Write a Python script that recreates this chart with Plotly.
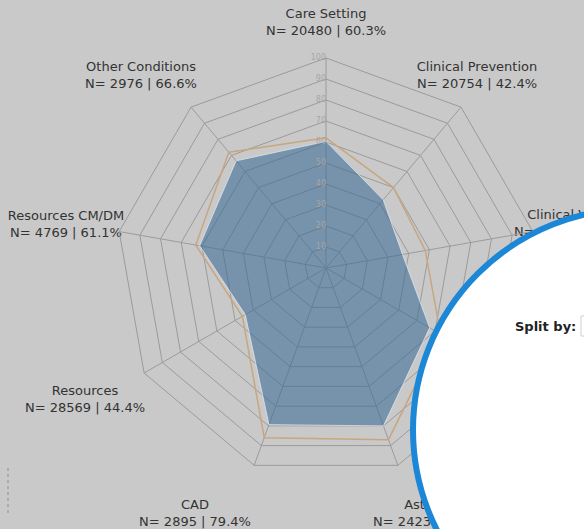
import plotly.graph_objects as go

# ---- data ----
categories = ["Care Setting", "Clinical Prevention", "Clinical Values", "Diabetes",
              "Asthma", "CAD", "Resources", "Resources CM/DM", "Other Conditions"]
n_counts = [20480, 20754, 18214, 9870, 2423, 2895, 28569, 4769, 2976]
pct_values = [60.3, 42.4, 37.0, 57.0, 80.0, 79.4, 44.4, 61.1, 66.6]
benchmark_values = [62.0, 50.0, 48.0, 63.0, 87.0, 86.0, 46.0, 63.0, 72.0]
radial_ticks = [10, 20, 30, 40, 50, 60, 70, 80, 90, 100]

# ---- label placement (pixel coords of the 584x529 canvas) ----
label_x = [326, 477, 574, 545, 429, 195, 85, 66, 141]
label_y = [23, 76, 224, 400, 514, 514, 400, 225, 76]

W, H = 584, 529
BG = "#c9c9c9"
GRID = "#9b9b9b"

labels = [f"{c}<br>N= {n} | {p}%" for c, n, p in zip(categories, n_counts, pct_values)]

theta_closed = categories + categories[:1]

fig = go.Figure()

fig.add_trace(go.Scatterpolar(
    r=benchmark_values + benchmark_values[:1],
    theta=theta_closed,
    mode="lines",
    line=dict(color="#c8a680", width=1.5),
    hoverinfo="skip",
    showlegend=False,
))
fig.add_trace(go.Scatterpolar(
    r=pct_values + pct_values[:1],
    theta=theta_closed,
    mode="lines",
    fill="toself",
    fillcolor="rgba(55,103,148,0.56)",
    line=dict(color="rgba(225,232,240,0.75)", width=1),
    hoverinfo="skip",
    showlegend=False,
))
# radial tick labels along the top spoke
fig.add_trace(go.Scatterpolar(
    r=radial_ticks,
    theta=[categories[0]] * len(radial_ticks),
    mode="text",
    text=[str(t) for t in radial_ticks],
    textposition="middle left",
    textfont=dict(family="DejaVu Sans", size=8, color="#a6a6a6"),
    hoverinfo="skip",
    showlegend=False,
))

# axis labels as text marks (so the overlay shape can cover them)
fig.add_trace(go.Scatter(
    x=label_x, y=label_y, mode="text", text=labels,
    textposition="middle center",
    textfont=dict(family="DejaVu Sans", size=13, color="#333333"),
    hoverinfo="skip", showlegend=False,
))

R = 210
cx, cy = 326, 268
fig.update_layout(
    width=W, height=H,
    margin=dict(l=0, r=0, t=0, b=0),
    paper_bgcolor=BG,
    plot_bgcolor="rgba(0,0,0,0)",
    showlegend=False,
    xaxis=dict(range=[0, W], domain=[0, 1], visible=False, fixedrange=True),
    yaxis=dict(range=[H, 0], domain=[0, 1], visible=False, fixedrange=True),
    polar=dict(
        domain=dict(x=[(cx - R) / W, (cx + R) / W],
                    y=[(H - cy - R) / H, (H - cy + R) / H]),
        bgcolor="rgba(0,0,0,0)",
        gridshape="linear",
        radialaxis=dict(range=[0, 100], tickvals=radial_ticks + [0],
                        showticklabels=False, angle=90, showline=False, ticks="",
                        gridcolor=GRID, gridwidth=1),
        angularaxis=dict(rotation=90, direction="clockwise",
                         showticklabels=False, ticks="",
                         gridcolor=GRID, gridwidth=1,
                         showline=True, linecolor=GRID, linewidth=1),
    ),
    shapes=[
        dict(type="circle", xref="x", yref="y", x0=413, x1=855, y0=209, y1=651,
             fillcolor="white", line=dict(color="#1b87d6", width=6), layer="above"),
        dict(type="rect", xref="x", yref="y", x0=581, x1=610, y0=316, y1=336,
             fillcolor="white", line=dict(color="#cfcfcf", width=1), layer="above"),
        dict(type="line", xref="x", yref="y", x0=8, x1=8, y0=468, y1=516,
             line=dict(color="#8d8d8d", width=1, dash="dot"), layer="above"),
    ],
    annotations=[
        dict(x=578, y=326, xref="x", yref="y", xanchor="right",
             text="<b>Split by:</b>", showarrow=False,
             font=dict(family="DejaVu Sans", size=13, color="#222222")),
    ],
)

fig.write_html(
    "out.html",
    config={"displayModeBar": False, "staticPlot": True},
    post_script="document.body.style.margin='0';document.body.style.padding='0';",
)
